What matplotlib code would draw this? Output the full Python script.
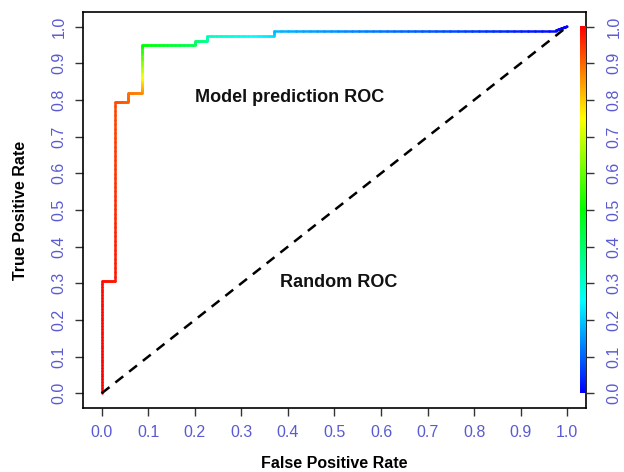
import matplotlib
matplotlib.use("Agg")
import matplotlib.pyplot as plt
import matplotlib.colors as mcolors
from matplotlib.collections import LineCollection
import numpy as np

# ROC curve vertices (FPR, TPR) and the cutoff used for colouring
fpr = [0.0, 0.0, 0.028, 0.028, 0.056, 0.056, 0.086, 0.086, 0.200, 0.200,
       0.227, 0.227, 0.371, 0.371, 0.976, 1.0]
tpr = [0.0, 0.306, 0.306, 0.795, 0.795, 0.820, 0.820, 0.951, 0.951, 0.962,
       0.962, 0.975, 0.975, 0.989, 0.989, 1.0]
cutoff = [1.0, 0.99, 0.98, 0.93, 0.91, 0.89, 0.87, 0.50, 0.42, 0.40,
          0.36, 0.32, 0.22, 0.18, 0.01, 0.0]

ticks = [0.0, 0.1, 0.2, 0.3, 0.4, 0.5, 0.6, 0.7, 0.8, 0.9, 1.0]
tick_labels = ["0.0", "0.1", "0.2", "0.3", "0.4", "0.5", "0.6", "0.7", "0.8", "0.9", "1.0"]

plt.rcParams['font.family'] = ['Liberation Sans', 'DejaVu Sans']
tick_col = "#5a5ad2"


def rainbow(v):
    """R-style rainbow(start=0, end=4/6): v=1 red, v=0 blue"""
    v = np.clip(np.asarray(v, dtype=float), 0, 1)
    h = (1 - v) * 4 / 6
    hsv = np.stack([h, np.ones_like(h), np.ones_like(h)], axis=-1)
    return mcolors.hsv_to_rgb(hsv)


fig = plt.figure(figsize=(6.24, 4.72), dpi=100)
ax = fig.add_axes([0.133, 0.1356, 0.806, 0.839])
ax.set_xlim(-0.04, 1.04)
ax.set_ylim(-0.04, 1.04)

# colorized ROC curve: split every segment into short pieces for the gradient
segs, vals = [], []
for i in range(len(fpr) - 1):
    n = 40
    t = np.linspace(0, 1, n + 1)
    xs = fpr[i] + (fpr[i + 1] - fpr[i]) * t
    ys = tpr[i] + (tpr[i + 1] - tpr[i]) * t
    cs = cutoff[i] + (cutoff[i + 1] - cutoff[i]) * t
    for k in range(n):
        segs.append([(xs[k], ys[k]), (xs[k + 1], ys[k + 1])])
        vals.append((cs[k] + cs[k + 1]) / 2)
lc = LineCollection(segs, colors=rainbow(vals), linewidths=1.8, capstyle="round")
ax.add_collection(lc)

# random classifier
ax.plot([0, 1], [0, 1], color="black", lw=1.8, ls=(0, (4, 3)))

# colour key along right edge
cb = np.linspace(0, 1, 256)
ax.imshow(rainbow(cb)[::-1, None, :], extent=[1.028, 1.04, 0, 1],
          aspect="auto", origin="upper", zorder=3)

ax.text(0.403, 0.806, "Model prediction ROC", fontsize=13, fontweight="bold",
        ha="center", va="center", color="#111111")
ax.text(0.508, 0.301, "Random ROC", fontsize=13, fontweight="bold",
        ha="center", va="center", color="#111111")

for s in ax.spines.values():
    s.set_linewidth(1.2)

ax.set_xticks(ticks)
ax.set_xticklabels(tick_labels)
ax.set_yticks(ticks)
ax.set_yticklabels(tick_labels, rotation=90, va="center")
ax.tick_params(axis="both", length=6, width=1, color="#333333",
               labelcolor=tick_col, labelsize=11.5)
ax.tick_params(axis="x", pad=6)
ax.tick_params(axis="y", pad=6)

ax2 = ax.twinx()
ax2.set_ylim(-0.04, 1.04)
ax2.set_yticks(ticks)
ax2.set_yticklabels(tick_labels, rotation=90, va="center")
ax2.tick_params(axis="y", length=6, width=1, color="#333333",
                labelcolor=tick_col, labelsize=11.5, pad=9)
for s in ax2.spines.values():
    s.set_visible(False)

ax.set_xlabel("False Positive Rate", fontsize=11.5, fontweight="bold", labelpad=12)
ax.set_ylabel("True Positive Rate", fontsize=11.5, fontweight="bold", labelpad=17)

fig.savefig("out.png", dpi=100)
